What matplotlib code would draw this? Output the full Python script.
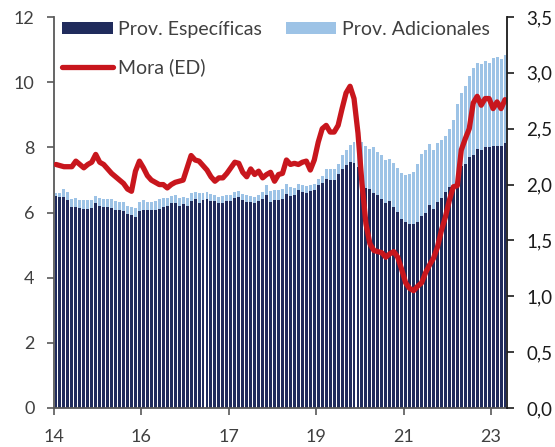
import matplotlib
matplotlib.use("Agg")
import matplotlib.pyplot as plt
from matplotlib.patches import Patch
from matplotlib.lines import Line2D
from matplotlib.ticker import FuncFormatter
import numpy as np

plt.rcParams['font.family'] = ['Lato', 'DejaVu Sans']

# Monthly series, Jan-2014 onwards (% of loans)
total_prov = [
    6.59, 6.59, 6.71, 6.63, 6.40, 6.44, 6.39, 6.37, 6.37, 6.37,
    6.51, 6.43, 6.40, 6.40, 6.40, 6.35, 6.33, 6.32, 6.20, 6.18,
    6.15, 6.32, 6.37, 6.33, 6.33, 6.35, 6.40, 6.43, 6.45, 6.50,
    6.53, 6.43, 6.48, 6.43, 6.59, 6.64, 6.59, 6.59, 6.62, 6.56,
    6.55, 6.49, 6.50, 6.55, 6.55, 6.64, 6.67, 6.56, 6.53, 6.51,
    6.48, 6.55, 6.62, 6.84, 6.66, 6.69, 6.70, 6.72, 6.86, 6.79,
    6.74, 6.86, 6.84, 6.82, 6.84, 6.87, 7.03, 7.13, 7.35, 7.33,
    7.34, 7.48, 7.76, 7.92, 8.08, 8.15, 8.17, 8.16, 8.03, 7.94,
    8.00, 7.87, 7.76, 7.60, 7.64, 7.51, 7.37, 7.21, 7.15, 7.17,
    7.23, 7.48, 7.79, 7.91, 8.09, 7.91, 8.12, 8.22, 8.34, 8.55,
    8.83, 9.33, 9.67, 9.88, 10.18, 10.42, 10.60, 10.57, 10.64, 10.60,
    10.73, 10.76, 10.71, 10.83,
]
especificas = [
    6.51, 6.49, 6.48, 6.38, 6.18, 6.18, 6.15, 6.12, 6.12, 6.14,
    6.30, 6.20, 6.18, 6.17, 6.14, 6.09, 6.08, 6.04, 5.94, 5.92,
    5.87, 6.05, 6.09, 6.08, 6.08, 6.09, 6.12, 6.18, 6.21, 6.28,
    6.30, 6.20, 6.26, 6.21, 6.36, 6.40, 6.30, 6.38, 6.40, 6.36,
    6.35, 6.30, 6.30, 6.36, 6.36, 6.45, 6.47, 6.37, 6.33, 6.31,
    6.30, 6.35, 6.40, 6.53, 6.32, 6.37, 6.39, 6.41, 6.56, 6.50,
    6.54, 6.70, 6.63, 6.60, 6.67, 6.70, 6.85, 6.91, 7.04, 7.00,
    6.99, 7.17, 7.35, 7.47, 7.54, 7.53, 7.40, 6.96, 6.75, 6.71,
    6.59, 6.53, 6.41, 6.30, 6.34, 6.17, 6.02, 5.81, 5.70, 5.64,
    5.64, 5.70, 5.89, 6.00, 6.23, 6.10, 6.31, 6.43, 6.62, 6.79,
    6.81, 7.00, 7.42, 7.50, 7.69, 7.76, 7.94, 7.91, 8.00, 8.00,
    8.05, 8.05, 8.05, 8.14,
]
mora = [
    2.18, 2.17, 2.16, 2.16, 2.16, 2.21, 2.18, 2.15, 2.18, 2.20,
    2.27, 2.20, 2.18, 2.14, 2.10, 2.07, 2.04, 2.01, 1.96, 1.94,
    2.12, 2.21, 2.15, 2.08, 2.04, 2.02, 2.00, 2.00, 1.97, 2.00,
    2.02, 2.03, 2.04, 2.15, 2.26, 2.22, 2.21, 2.17, 2.13, 2.07,
    2.03, 2.06, 2.06, 2.10, 2.15, 2.20, 2.19, 2.11, 2.07, 2.14,
    2.09, 2.12, 2.06, 2.09, 2.11, 2.03, 2.09, 2.10, 2.22, 2.18,
    2.19, 2.18, 2.20, 2.21, 2.13, 2.22, 2.38, 2.50, 2.53, 2.47,
    2.47, 2.53, 2.68, 2.82, 2.88, 2.77, 2.46, 2.01, 1.65, 1.47,
    1.41, 1.40, 1.39, 1.35, 1.38, 1.40, 1.35, 1.24, 1.12, 1.07,
    1.05, 1.09, 1.12, 1.21, 1.28, 1.34, 1.44, 1.59, 1.71, 1.86,
    1.98, 1.99, 2.31, 2.41, 2.50, 2.73, 2.79, 2.71, 2.77, 2.77,
    2.68, 2.74, 2.68, 2.76,
]
year_labels = ['14', '16', '17', '19', '21', '23']
months_per_tick = 22

adicionales = [t - e for t, e in zip(total_prov, especificas)]

DARK = '#202B5C'
LIGHT = '#9DC3E6'
RED = '#C8161D'
GREY_TXT = '#404040'

fig = plt.figure(figsize=(5.55, 4.47), dpi=100)
ax = fig.add_axes([54 / 555, 39 / 447, (507 - 54) / 555, (408 - 17) / 447])
ax2 = ax.twinx()

x = np.arange(len(especificas))
ax.bar(x, especificas, width=0.74, color=DARK, linewidth=0)
ax.bar(x, adicionales, bottom=especificas, width=0.74, color=LIGHT, linewidth=0)
ax2.plot(x, mora, color=RED, linewidth=3.8, solid_joinstyle='round',
         solid_capstyle='round')

ax.set_xlim(-0.5, len(x) - 0.5)
ax.set_ylim(0, 12)
ax.set_yticks(np.arange(0, 13, 2))
ax2.set_ylim(0, 3.5)
ax2.set_yticks(np.arange(0, 3.51, 0.5))
ax2.yaxis.set_major_formatter(FuncFormatter(lambda v, p: f"{v:.1f}".replace('.', ',')))

ticks = [-0.5 + months_per_tick * k for k in range(len(year_labels))]
ax.set_xticks(ticks)
ax.set_xticklabels(year_labels)

for a in (ax, ax2):
    a.spines['top'].set_visible(False)
ax.spines['left'].set_color('#595959')
ax.spines['bottom'].set_color('#595959')
ax.spines['right'].set_visible(False)
ax2.spines['left'].set_visible(False)
ax2.spines['bottom'].set_visible(False)
ax2.spines['right'].set_color('#1A1A1A')
ax2.spines['right'].set_linewidth(1.3)
ax.spines['left'].set_linewidth(1.3)
ax.spines['bottom'].set_linewidth(1.3)

ax.tick_params(axis='y', direction='out', length=5, width=1.2, color='#595959',
               labelsize=13, labelcolor=GREY_TXT, pad=9)
ax.tick_params(axis='x', direction='out', length=5, width=1.2, color='#595959',
               labelsize=13, labelcolor=GREY_TXT, pad=10)
ax2.tick_params(axis='y', direction='out', length=5, width=1.2, color='#1A1A1A',
                labelsize=13.5, labelcolor='#1A1A1A', pad=9)

handles = [
    Patch(facecolor=DARK, edgecolor='none', label='Prov. Específicas'),
    Line2D([], [], color=RED, linewidth=3.8, solid_capstyle='round', label='Mora (ED)'),
    Patch(facecolor=LIGHT, edgecolor='none', label='Prov. Adicionales'),
]
leg = ax2.legend(handles=handles, ncol=2, loc='upper left',
                 bbox_to_anchor=(62 / 555, 1 - 21 / 447),
                 bbox_transform=fig.transFigure, frameon=False,
                 fontsize=14, handlelength=2.6, handleheight=0.6,
                 handletextpad=0.3, columnspacing=1.2, labelspacing=1.05,
                 borderpad=0, borderaxespad=0)
for t in leg.get_texts():
    t.set_color(GREY_TXT)

fig.savefig('out.png', dpi=100)
